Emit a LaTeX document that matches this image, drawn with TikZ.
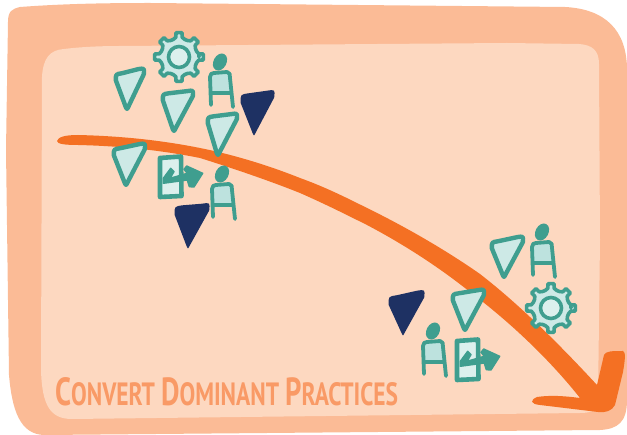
\documentclass[tikz,border=0pt]{standalone}
\usetikzlibrary{calc}
\usepackage{fontspec}
\setmainfont{PT Sans}
\definecolor{outerbg}{HTML}{FBBB96}
\definecolor{innerbg}{HTML}{FDD8C0}
\definecolor{flow}{HTML}{F47023}
\definecolor{teal1}{HTML}{3F9E8F}
\definecolor{paleteal}{HTML}{CDE9E6}
\definecolor{midteal}{HTML}{BDE2DE}
\definecolor{navy1}{HTML}{1E3163}
\definecolor{caption}{HTML}{F99A66}
\tikzset{
  pickline/.style={draw=teal1,fill=paleteal,line width=4.4pt,line join=round},
  darkpick/.style={fill=navy1,line join=round},
  tealstroke/.style={draw=teal1,line width=3.8pt,line cap=round,line join=round},
  pics/person/.style={code={
    \fill[teal1,rotate=-28] (0,0) ellipse (6.5 and 9);
    \fill[midteal] (-9,11) -- (10,10) -- (11,31) -- (-8,32) -- cycle;
    \draw[tealstroke] (-9,43) -- (-10,15) .. controls (-10,12) and (-8,11) .. (-6,11) -- (7,10) .. controls (10,10) and (10,13) .. (10,16) -- (13,45);
    \draw[tealstroke] (-9,31) -- (11,31);
  }},
  pics/gear/.style={code={
    \draw[draw=teal1,fill=paleteal,line width=3.6pt,line join=round]
      (0:20) \foreach \a in {0,45,...,315} {
        -- (\a-9:20) -- (\a-7:24.5) -- (\a+7:24.5) -- (\a+9:20) -- (\a+18:18.5) -- (\a+27:18.5) -- (\a+36:20)
      } -- cycle;
    \draw[draw=teal1,fill=paleteal!70!white,line width=3.6pt] (0,0) circle (10.5);
  }},
  pics/door/.style={code={
    \draw[draw=teal1,fill=paleteal!70!white,line width=4.6pt,line join=round] (3,3) -- (24,1.5) -- (24.5,41) -- (3,42) -- cycle;
    \fill[teal1,draw=teal1,line width=1.4pt,line join=round]
      (13.7,13.3) -- (6.3,23.3) -- (6.3,28.3) -- (30.3,25) -- (32.3,31.7) -- (37,32) -- (45.7,18.3)
      -- (29.7,11) -- (27,14.3) -- (30.3,18.3) -- (13,23.3) -- (17,16.7) -- cycle;
  }}
}
% a pick: #1 top left, #2 top right, #3 tip, #4 corner reach
\newcommand{\pickoutline}[4]{([shift={(0,#4)}]#1) .. controls (#1) and (#1) .. ([shift={(#4,-.15*#4)}]#1) -- ([shift={(-#4,.15*#4)}]#2) .. controls (#2) and (#2) .. ([shift={(-.1*#4,#4)}]#2) -- ([shift={(1.3,-2.6)}]#3) .. controls (#3) and (#3) .. ([shift={(-1.3,-2.6)}]#3) -- cycle}
\newcommand{\tealpick}[3]{\path ([shift={(.8,-.8)}]#1) coordinate (pa) ([shift={(-.6,.2)}]#2) coordinate (pb) ([shift={(0,-2.6)}]#3) coordinate (pc); \draw[pickline] \pickoutline{pa}{pb}{pc}{6};}
\newcommand{\navypick}[3]{\path ([shift={(-1.5,-3.5)}]#1) coordinate (pa) ([shift={(1,-1.5)}]#2) coordinate (pb) (#3) coordinate (pc); \fill[darkpick] \pickoutline{pa}{pb}{pc}{8};}
\begin{document}
\begin{tikzpicture}[x=1pt,y=-1pt]
\useasboundingbox (0,0) rectangle (627,435);
% outer panel
\fill[outerbg] (8,22) .. controls (8,11) and (12,9) .. (20,7) .. controls (60,4) and (100,3) .. (150,3) -- (565,7)
  .. controls (605,9) and (627,30) .. (627,70) -- (627,400)
  .. controls (627,422) and (618,429) .. (600,430) -- (45,435)
  .. controls (20,435) and (12,410) .. (9,375) -- (6,150) -- cycle;
% inner panel
\fill[innerbg] (42,77) .. controls (43,58) and (50,50) .. (64,49) .. controls (80,47) and (100,46) .. (120,46) -- (507,43) -- (579,44)
  .. controls (592,45) and (599,50) .. (599,64) -- (600,240) -- (598,400)
  .. controls (598,410) and (592,413) .. (580,413) -- (72,419)
  .. controls (50,419) and (42,405) .. (41,370) -- cycle;
% flow arrow
\fill[flow] (57,141) .. controls (58,137) and (65,135) .. (78,135)
  .. controls (120,136) and (160,140) .. (200,148)
  .. controls (235,155) and (270,166) .. (300,178)
  .. controls (325,187) and (345,197) .. (367,208)
  .. controls (410,229) and (450,253) .. (480,274)
  .. controls (520,305) and (560,345) .. (597,385)
  -- (604,355) .. controls (606,351) and (612,351) .. (623,351)
  .. controls (626,352) and (625,360) .. (623,372)
  -- (615,405) .. controls (612,411) and (605,413) .. (598,412)
  -- (540,405) .. controls (530,404) and (530,400) .. (537,397)
  .. controls (550,395) and (565,396) .. (580,398)
  .. controls (550,360) and (510,322) .. (470,292)
  .. controls (440,268) and (405,245) .. (367,225)
  .. controls (345,214) and (325,204) .. (300,193)
  .. controls (270,181) and (235,169) .. (200,158)
  .. controls (160,150) and (120,146) .. (78,145)
  .. controls (65,145) and (57,144) .. (57,141) -- cycle;
% upper cluster
\pic at (179,57) {gear};
\tealpick{115,75}{145,68}{127,112}
\tealpick{162,95}{194,90}{174,134}
\tealpick{207,118}{238,113}{218,158}
\tealpick{113,150}{146,143}{126,188}
\navypick{242,98}{274,91}{254,136}
\navypick{176,210}{209,204}{188,249}
\pic at (220,62) {person};
\pic at (222,174) {person};
\pic at (157,155) {door};
% lower cluster
\pic at (551,308) {gear};
\tealpick{491,243}{524,236}{504,280}
\tealpick{452,295}{485,289}{465,333}
\navypick{390,300}{424,291}{403,336}
\pic at (542,232) {person};
\pic at (433,331) {person};
\pic at (454,338) {door};
% caption
\node[anchor=base west,inner sep=0pt,text=caption] (cap) at (55,406)
  {\scalebox{1.02}[1.4]{\bfseries\fontsize{28}{30}\selectfont C\fontsize{23}{30}\selectfont ONVERT\hspace{6pt}\fontsize{28}{30}\selectfont D\fontsize{23}{30}\selectfont OMINANT\hspace{6pt}\fontsize{28}{30}\selectfont P\fontsize{23}{30}\selectfont RACTICES}};
\end{tikzpicture}
\end{document}
